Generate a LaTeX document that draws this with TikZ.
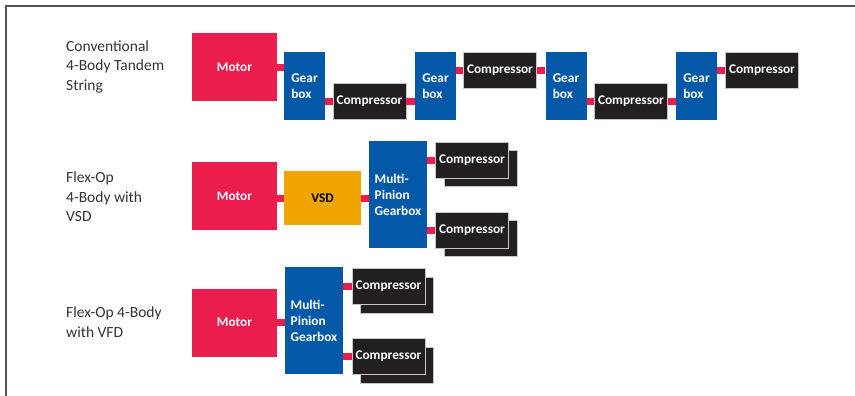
\documentclass[tikz,border=0pt]{standalone}
\usepackage{fontspec}
\setmainfont{Carlito}
\definecolor{motorred}{HTML}{EA1D4C}
\definecolor{gearblue}{HTML}{0358A8}
\definecolor{compblack}{HTML}{231F20}
\definecolor{vsdorange}{HTML}{F0A500}
\definecolor{labelgray}{HTML}{333333}
\definecolor{framegray}{HTML}{555555}
\begin{document}
\begin{tikzpicture}[x=1pt,y=-1pt,
 box/.style={inner sep=0pt, text=white, font=\fontsize{13.3}{16}\selectfont\bfseries, align=center},
 motor/.style={box, fill=motorred, minimum width=85pt, minimum height=68pt},
 gear/.style={box, fill=gearblue, minimum width=41pt, minimum height=68pt, align=left},
 mpgear/.style={box, fill=gearblue, minimum width=58pt, minimum height=107pt, align=left},
 comp/.style={box, fill=compblack, draw=gray!45, line width=0.7pt, minimum width=73pt, minimum height=36pt},
 shadowbox/.style={fill=compblack, draw=gray!45, line width=0.7pt, minimum width=73pt, minimum height=36pt, inner sep=0pt},
 vsdbox/.style={box, fill=vsdorange, text=black, minimum width=77pt, minimum height=54pt},
 link/.style={draw=motorred, line width=7pt},
 lbl/.style={anchor=west, align=left, text=labelgray, font=\fontsize{15.5}{19.5}\selectfont, inner sep=0pt}
]
\useasboundingbox (0,0) rectangle (855,396);
\draw[framegray, line width=1.3pt] (6,396) -- (6,6) -- (855,6);

% labels
\node[lbl] (l1) at (66,66.5) {Conventional\\4-Body Tandem\\String};
\node[lbl] (l2) at (66,197) {Flex-Op\\4-Body with\\VSD};
\node[lbl] (l3) at (66,322) {Flex-Op 4-Body\\with VFD};

% row 1
\node[motor] (m1) at (234.5,67.5) {Motor};
\node[gear] (g1) at (304.5,86) {Gear\\box};
\node[comp] (c1) at (369.5,101.5) {Compressor};
\node[gear] (g2) at (435.5,86) {Gear\\box};
\node[comp] (c2) at (500,70.5) {Compressor};
\node[gear] (g3) at (566,86) {Gear\\box};
\node[comp] (c3) at (631,101.5) {Compressor};
\node[gear] (g4) at (696.5,86) {Gear\\box};
\node[comp] (c4) at (762,70.5) {Compressor};
\draw[link] (m1.east) -- (m1.east -| g1.west);
\draw[link] (g1.east |- c1.west) -- (c1.west);
\draw[link] (c1.east) -- (c1.east -| g2.west);
\draw[link] (g2.east |- c2.west) -- (c2.west);
\draw[link] (c2.east) -- (c2.east -| g3.west);
\draw[link] (g3.east |- c3.west) -- (c3.west);
\draw[link] (c3.east) -- (c3.east -| g4.west);
\draw[link] (g4.east |- c4.west) -- (c4.west);

% row 2
\node[motor] (m2) at (234.5,196) {Motor};
\node[vsdbox] (v2) at (322.5,198) {VSD};
\node[mpgear] (p2) at (398,194.5) {Multi-\\Pinion\\Gearbox};
\node[shadowbox] (s5) at (480.5,168.5) {};
\node[comp] (c5) at (472,160.5) {Compressor};
\node[shadowbox] (s6) at (480.5,238) {};
\node[comp] (c6) at (472,230) {Compressor};
\draw[link] (m2.east |- v2.west) -- (v2.west);
\draw[link] (v2.east) -- (v2.east -| p2.west);
\draw[link] (p2.east |- c5.west) -- (c5.west);
\draw[link] (p2.east |- c6.west) -- (c6.west);

% row 3
\node[motor] (m3) at (234.5,322.5) {Motor};
\node[mpgear] (p3) at (314,320.5) {Multi-\\Pinion\\Gearbox};
\node[shadowbox] (s7) at (396.5,295) {};
\node[comp] (c7) at (388.5,286) {Compressor};
\node[shadowbox] (s8) at (396.5,365) {};
\node[comp] (c8) at (388.5,356) {Compressor};
\draw[link] (m3.east) -- (m3.east -| p3.west);
\draw[link] (p3.east |- c7.west) -- (c7.west);
\draw[link] (p3.east |- c8.west) -- (c8.west);
\end{tikzpicture}
\end{document}
